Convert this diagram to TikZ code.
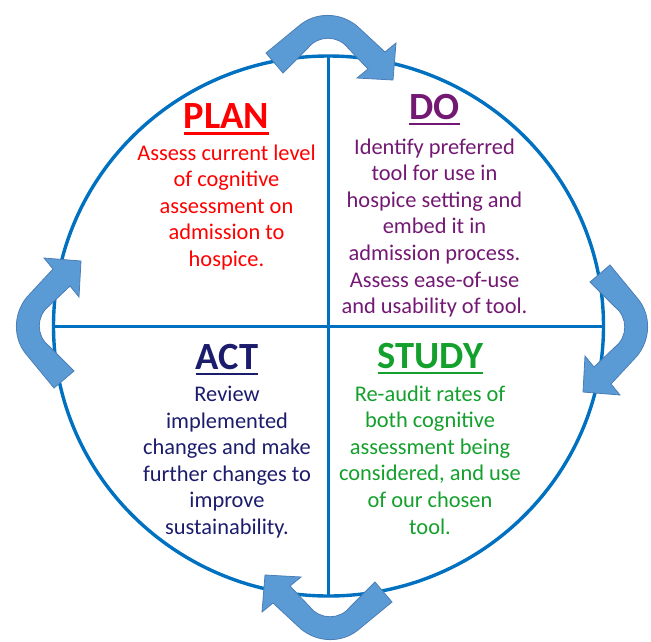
\documentclass[tikz,border=0pt]{standalone}
\usepackage{fontspec}
\setmainfont{Carlito}
\definecolor{ring}{HTML}{0070C0}
\definecolor{arrowfill}{HTML}{5B9BD5}
\definecolor{arrowedge}{HTML}{4A7EB5}
\definecolor{plancol}{HTML}{FF0000}
\definecolor{docol}{HTML}{731973}
\definecolor{actcol}{HTML}{1C1C6C}
\definecolor{studycol}{HTML}{14A02C}
\newcommand\hdline[1]{\setbox0=\hbox{#1}\rlap{\rule[-6.2pt]{\wd0}{2.2pt}}\box0}
\newcommand\txtlines[1]{\begin{tabular}[t]{@{}c@{}}#1\end{tabular}}
\newcommand\pdcaarrow{%
  \filldraw[cyclearrow] (266,53) -- (300,25) .. controls (316,12) and (340,12) .. (357,26)
    -- (385,52) -- (396,43) -- (393,80) -- (357,78) -- (368,69) -- (348,48)
    .. controls (338,35) and (318,35) .. (308,48) -- (283,73) -- cycle;}
\begin{document}
\begin{tikzpicture}[x=1pt,y=-1pt,
  ringline/.style={draw=ring, line width=3.4pt},
  cyclearrow/.style={fill=arrowfill, draw=arrowedge, line width=0.8pt, line join=miter},
  heading/.style={font=\fontsize{38.5}{46}\selectfont\bfseries, anchor=base, inner sep=0pt},
  bodytext/.style={font=\fontsize{22.4}{26.6}\selectfont, anchor=base, inner sep=0pt}]
\useasboundingbox (0,0) rectangle (651,641);
\coordinate (C) at (328.5,326);
\coordinate (T) at (328.5,56);
\coordinate (B) at (328.5,596);
\coordinate (L) at (53.5,326.5);
\coordinate (R) at (603.5,326.5);
\draw[ringline] (C) ellipse [x radius=275pt, y radius=270pt];
\draw[ringline] (T) -- (B);
\draw[ringline] (L) -- (R);
% cycle arrows
\begin{scope}\pdcaarrow\end{scope}
\begin{scope}[shift={(9,3)}]\begin{scope}[rotate around={-90:(329,325)}]\pdcaarrow\end{scope}\end{scope}
\begin{scope}[shift={(0,5)}]\begin{scope}[rotate around={180:(329,325)}]\pdcaarrow\end{scope}\end{scope}
\begin{scope}[shift={(-3,0)}]\begin{scope}[rotate around={90:(329,325)}]\pdcaarrow\end{scope}\end{scope}
% texts
\node[heading, text=plancol] (planhead) at (226.5,128.3) {\hdline{PLAN}};
\node[bodytext, text=plancol] (planbody) at (226.5,160) {\txtlines{Assess current level\\of cognitive\\assessment on\\admission to\\hospice.}};
\node[heading, text=docol] (dohead) at (434.5,119) {\hdline{DO}};
\node[bodytext, text=docol] (dobody) at (434.5,154) {\txtlines{Identify preferred\\tool for use in\\hospice setting and\\embed it in\\admission process.\\Assess ease-of-use\\and usability of tool.}};
\node[heading, text=actcol] (acthead) at (227,369) {\hdline{ACT}};
\node[bodytext, text=actcol] (actbody) at (227,401.5) {\txtlines{Review\\implemented\\changes and make\\further changes to\\improve\\sustainability.}};
\node[heading, text=studycol] (studyhead) at (430.5,368) {\hdline{STUDY}};
\node[bodytext, text=studycol] (studybody) at (430,401) {\txtlines{Re-audit rates of\\both cognitive\\assessment being\\considered, and use\\of our chosen\\tool.}};
\end{tikzpicture}
\end{document}
